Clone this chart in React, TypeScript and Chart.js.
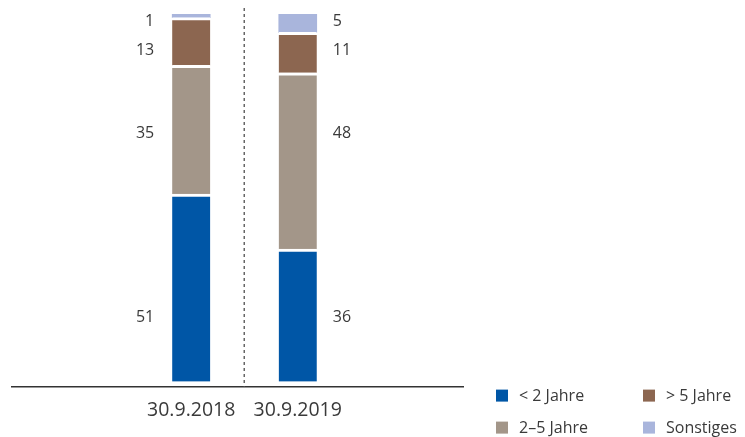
import { useEffect, useRef } from "react";
import { Chart, registerables } from "chart.js";

Chart.register(...registerables);

const categories = ["30.9.2018", "30.9.2019"];
const seriesNames = ["< 2 Jahre", "2–5 Jahre", "> 5 Jahre", "Sonstiges"];
const lessThan2 = [51, 36];
const twoToFive = [35, 48];
const moreThan5 = [13, 11];
const other = [1, 5];
const seriesValues = [lessThan2, twoToFive, moreThan5, other];
const seriesColors = ["#0056a6", "#a39689", "#8c6650", "#a9b5dc"];

const TEXT = "#3a3a3a";
const FONT = "'Open Sans', 'Noto Sans', sans-serif";

export default function App() {
  const ref = useRef<HTMLCanvasElement | null>(null);

  useEffect(() => {
    document.body.style.margin = "0";
    const canvas = ref.current;
    if (!canvas) return;

    const valueLabelPlugin = {
      id: "valueLabels",
      afterDatasetsDraw(chart: any, _args: any, opts: any) {
        const ctx = chart.ctx;
        const yScale = chart.scales.y;
        const xScale = chart.scales.x;
        const area = chart.chartArea;
        ctx.save();
        const xm = (xScale.getPixelForValue(0) + xScale.getPixelForValue(1)) / 2;
        ctx.strokeStyle = "#666";
        ctx.lineWidth = 1.5;
        ctx.setLineDash([3, 3]);
        ctx.beginPath();
        ctx.moveTo(Math.round(xm) + 0.25, area.top - 6);
        ctx.lineTo(Math.round(xm) + 0.25, area.bottom);
        ctx.stroke();
        ctx.setLineDash([]);

        ctx.font = `16px ${FONT}`;
        ctx.fillStyle = TEXT;
        ctx.textBaseline = "middle";
        seriesValues.forEach((vals, i) => {
          const meta = chart.getDatasetMeta(i);
          const y = yScale.getPixelForValue(opts.rows[i]);
          vals.forEach((v, j) => {
            const bar = meta.data[j] as any;
            const half = bar.width / 2;
            if (j === 0) {
              ctx.textAlign = "right";
              ctx.fillText(String(v), bar.x - half - 18, y);
            } else {
              ctx.textAlign = "left";
              ctx.fillText(String(v), bar.x + half + 16, y);
            }
          });
        });
        ctx.restore();
      },
      afterDraw(chart: any) {
        const ctx = chart.ctx;
        const area = chart.chartArea;
        const col1 = area.right + 33;
        const col2 = area.right + 180;
        const row1 = area.bottom + 3;
        const row2 = area.bottom + 35;
        const order = [
          [0, col1, row1],
          [1, col1, row2],
          [2, col2, row1],
          [3, col2, row2],
        ];
        ctx.save();
        ctx.font = `16px ${FONT}`;
        ctx.textBaseline = "middle";
        ctx.textAlign = "left";
        order.forEach(([i, x, y]) => {
          ctx.fillStyle = seriesColors[i];
          ctx.fillRect(x, y, 12, 12);
          ctx.fillStyle = TEXT;
          ctx.fillText(seriesNames[i], x + 23, y + 7);
        });
        ctx.restore();
      },
    };

    const chart = new Chart(canvas, {
      type: "bar",
      data: {
        datasets: seriesValues.map((vals, i) => ({
          label: seriesNames[i],
          data: vals.map((v, j) => ({ x: j, y: v })),
          backgroundColor: seriesColors[i],
          borderColor: "#ffffff",
          borderWidth: i < 3 ? { top: 3, bottom: 0, left: 0, right: 0 } : 0,
          borderSkipped: false,
          barThickness: 38,
        })),
      },
      options: {
        responsive: false,
        animation: false,
        layout: { padding: { left: 10, right: 282, top: 14, bottom: 3 } },
        plugins: {
          legend: { display: false },
          tooltip: { enabled: false },
          valueLabels: { rows: [17.4, 67.6, 90.2, 98.1] },
        } as any,
        scales: {
          x: {
            type: "linear",
            stacked: true,
            offset: false,
            min: -1.682,
            max: 2.551,
            grid: { display: false, drawTicks: false },
            border: { display: true, color: "#333", width: 1.5 },
            ticks: {
              stepSize: 1,
              autoSkip: false,
              maxRotation: 0,
              padding: 12,
              color: TEXT,
              font: { family: FONT, size: 19.5 },
              callback: (v: any) => {
                const n = Number(v);
                return Number.isInteger(n) && categories[n] ? categories[n] : "";
              },
            },
          },
          y: {
            stacked: true,
            display: false,
            min: -1.4,
            max: 100,
          },
        },
      },
      plugins: [valueLabelPlugin],
    } as any);

    return () => chart.destroy();
  }, []);

  return <canvas ref={ref} width={745} height={437} style={{ display: "block" }} />;
}
